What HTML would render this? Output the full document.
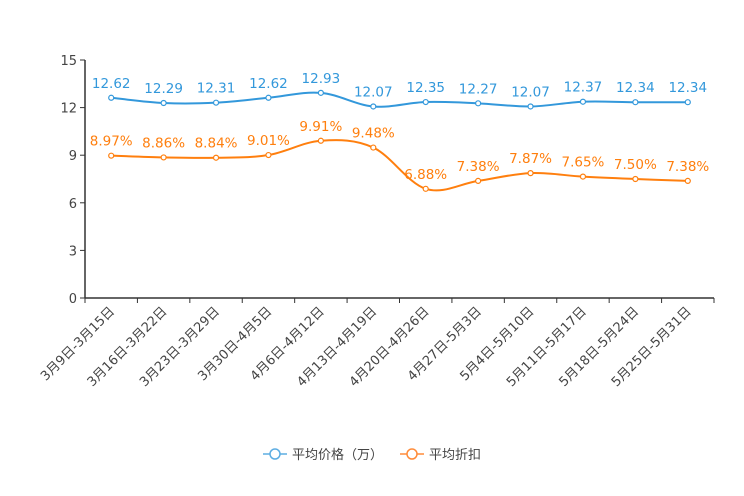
<!DOCTYPE html>
<html><head><meta charset="utf-8"><style>
body{margin:0;background:#fff;}
svg{display:block;font-family:"DejaVu Sans","Noto Sans CJK SC",sans-serif;}
</style></head><body>
<svg id="chart" width="744" height="496"></svg>
<script>
const categories=["3月9日-3月15日","3月16日-3月22日","3月23日-3月29日","3月30日-4月5日","4月6日-4月12日","4月13日-4月19日","4月20日-4月26日","4月27日-5月3日","5月4日-5月10日","5月11日-5月17日","5月18日-5月24日","5月25日-5月31日"];
const priceValues=[12.62,12.29,12.31,12.62,12.93,12.07,12.35,12.27,12.07,12.37,12.34,12.34];
const discountValues=[8.97,8.86,8.84,9.01,9.91,9.48,6.88,7.38,7.87,7.65,7.50,7.38];
const yTicks=[0,3,6,9,12,15];
const seriesNames=["平均价格（万）","平均折扣"];

const NS="http://www.w3.org/2000/svg";
const svg=document.getElementById('chart');
const L=85,R=714,T=60,B=298,ymax=15;
const band=(R-L)/categories.length;
const x=i=>L+band*(i+0.5);
const y=v=>B-(v/ymax)*(B-T);
function mk(t,a,p){const e=document.createElementNS(NS,t);for(const k in a)e.setAttribute(k,a[k]);(p||svg).appendChild(e);return e;}
function path(vals){
 const pts=vals.map((v,i)=>[x(i),y(v)]);let d=`M${pts[0][0]},${pts[0][1]}`;
 for(let i=0;i<pts.length-1;i++){const p0=pts[Math.max(0,i-1)],p1=pts[i],p2=pts[i+1],p3=pts[Math.min(pts.length-1,i+2)];const t=0.17;
  d+=` C${p1[0]+(p2[0]-p0[0])*t},${p1[1]+(p2[1]-p0[1])*t} ${p2[0]-(p3[0]-p1[0])*t},${p2[1]-(p3[1]-p1[1])*t} ${p2[0]},${p2[1]}`;}
 return d;}
const ax=mk('line',{x1:L,y1:B,x2:R,y2:B,stroke:'#333','stroke-width':1.5});

const ay=mk('line',{x1:L,y1:T,x2:L,y2:B,stroke:'#333','stroke-width':1.5});

yTicks.forEach(v=>{
 mk('line',{x1:L-5,y1:y(v),x2:L,y2:y(v),stroke:'#333'});
 const t=mk('text',{x:L-8,y:y(v)+5,'text-anchor':'end','font-size':13,fill:'#444'});t.textContent=v;
 
});
for(let i=0;i<=categories.length;i++)mk('line',{x1:L+band*i,y1:B,x2:L+band*i,y2:B+5,stroke:'#333'});
categories.forEach((c,i)=>{
 const t=mk('text',{x:x(i)+4,y:B+14,'text-anchor':'end','font-size':13,fill:'#444',transform:`rotate(-45 ${x(i)+4} ${B+14})`});t.textContent=c;
 
});
function series(vals,color,name,fmt){
 const p=mk('path',{d:path(vals),fill:'none',stroke:color,'stroke-width':2});
 
 vals.forEach((v,i)=>{
  const c=mk('circle',{cx:x(i),cy:y(v),r:2.5,fill:'#fff',stroke:color,'stroke-width':1.2});
  
  const t=mk('text',{x:x(i),y:y(v)-10,'text-anchor':'middle','font-size':13.5,fill:color});t.textContent=fmt(v);
  
 });
}
series(priceValues,'#3398DB','price',v=>v.toFixed(2));
series(discountValues,'#FF7F0E','discount',v=>v.toFixed(2)+'%');
[['#5DADE2',263,seriesNames[0]],['#FF8C3A',400,seriesNames[1]]].forEach(([c,lx,n],k)=>{
 const g=mk('g',{});
 mk('line',{x1:lx,y1:454,x2:lx+24,y2:454,stroke:c,'stroke-width':1.5},g);
 mk('circle',{cx:lx+12,cy:454,r:5,fill:'#fff',stroke:c,'stroke-width':1.5},g);
 const t=mk('text',{x:lx+29,y:459,'font-size':13,fill:'#444'},g);t.textContent=n;
});
</script>
</body></html>
